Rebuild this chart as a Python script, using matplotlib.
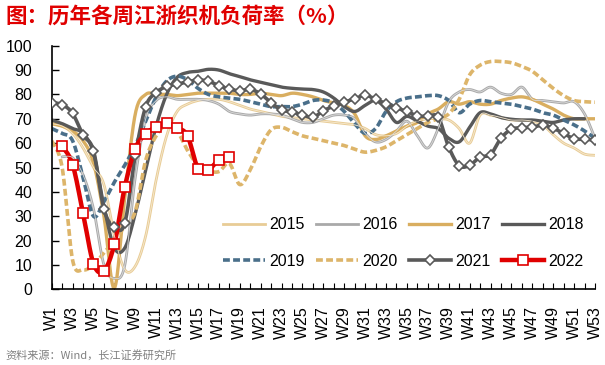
import matplotlib
matplotlib.use("Agg")
import matplotlib.pyplot as plt
from matplotlib.lines import Line2D
import numpy as np

weeks = [f"W{i}" for i in range(1, 54)]
N = None

y2015 = [68, 67, 64, 58, 50, 43, 22, 8, 9.5, 22, 45, 63, 73, 76, 77.5, 78, 78, 77, 75.5, 74,
         73, 72, 71, 70.5, 70, 69.5, 69, 68.5, 68, 67.5, 66, 63.5, 63, 64, 67, 69, 70, 70, 69.5, 66,
         60, 71.5, 71.5, 70.5, 69.5, 69.5, 69, 67.5, 63.5, 60, 58, 55.5, 55]
y2016 = [N, 54.4, 54, 47, 33, 10, 4.5, 10, 46, 70, 77.5, 79, 78, 78, 78, 77.5, 76, 73, 72, 71.5,
         72, 72, 71.5, 70, 68.5, 68.5, 70, 71.5, 71.5, 70, 64, 60.5, 61.5, 65, 69, 63, 58, 66, 77, 81,
         82, 81, 83, 80.5, 80, 83, 78, 77.5, 77, 76.5, 77, 72, 62]
y2017 = [68, 67, 65, 61, 52, 30, 0.5, 38, 72, 80, 80, 80, 79.5, 80, 80.5, 80.5, 80.5, 80.5, 80, 80,
         80.5, 80, 79.5, 80.5, 80, 79, 77.5, 76.5, 75.5, 72, 63, 61.5, 63, 65, 67, 68.5, 72, 74, 77, 76,
         77, 76, 76, 77.5, 78.5, 79, 78, 76, 74, 71.5, 70, 70, 70]
y2018 = [69.5, 68, 66, 64, 56, 34, 17, 17, 31, 49, 67, 80, 87, 89, 89.5, 90.3, 90, 88.5, 87.3, 86,
         85, 84, 83, 82.5, 82.2, 82, 81, 78.5, 75, 73, 75.5, 77.5, 74, 68.5, 71, 69, 67, 66, 62, 60.5,
         66.5, 72.5, 72, 70.5, 69.8, 69.5, 69.5, 69, 68.5, 69.5, 70, 70, N]
y2019 = [66, 64, 61, 46, 30, 36, 44, 51, 59, 69, 79, 85.5, 87.5, 86, 82.5, 80, 79, 78.5, 78, 77,
         76, 75, 75, 75, 76, 77.5, 77.7, 76.5, 73, 68, 64, 66, 73, 77, 78.5, 79, 79.5, 79.5, 77.5, 72.5,
         76, 77.5, 77, 76.5, 76, 75, 74, 72.5, 71.5, 69.5, 67.5, 65, 62]
y2020 = [61, 50, 12, 8, 10, 15, 20, 26, 32, 53, 63, 67.5, 65, 57, 51, 48.7, 48.3, 51.7, 43, 49,
         58.5, 65.5, 66.5, 64.7, 63, 62, 61, 60, 59, 57.5, 56.3, 57, 58.5, 61, 63.5, 66, 68.5, 70, 72, 78,
         88, 92, 93.5, 93.5, 93, 91.5, 89.5, 86, 82.5, 79.5, 77.5, 77, 76.8]
y2021 = [76.6, 75.8, 72.2, 63.3, 56.9, 33.0, 25.4, 27.3, 55, 75.0, 80.7, 83.3, 84.2, 85.2, 85.9, 85.4, 83.6, 82.2, 81.5, 82.1,
         80.2, 76.6, 73.6, 72.8, 71.6, 70.6, 73.3, 75.2, 76.8, 78.2, 79.7, 78.0, 76.2, 74.5, 73.0, 71.2, 71.0, 70.6, 58.4, 50.8,
         50.9, 54.3, 55.3, 62.0, 65.7, 66.3, 66.6, 67.3, 66.1, 64.0, 61.8, 61.6, 61.3]
y2022 = [N, 58.8, 51.2, 31.3, 10.5, 7.6, 18.6, 42.1, 57.7, 63.8, 66.6, 68.1, 66.3, 63.0, 49.5, 49.1, 53.1, 54.4] + [N] * 35

years = ["2015", "2016", "2017", "2018", "2019", "2020", "2021", "2022"]


def smooth(xs, ys, n=16):
    """Catmull-Rom style smoothing (like Excel smoothed lines) through the data points."""
    xs = np.asarray(xs, float)
    ys = np.asarray(ys, float)
    if len(xs) < 3:
        return xs, ys
    P = np.column_stack([xs, ys])
    out = []
    for i in range(len(P) - 1):
        p0 = P[i - 1] if i > 0 else P[i]
        p1 = P[i]
        p2 = P[i + 1]
        p3 = P[i + 2] if i + 2 < len(P) else P[i + 1]
        c1 = p1 + (p2 - p0) / 6.0
        c2 = p2 - (p3 - p1) / 6.0
        t = np.linspace(0, 1, n, endpoint=(i == len(P) - 2))[:, None]
        seg = ((1 - t) ** 3) * p1 + 3 * ((1 - t) ** 2) * t * c1 + 3 * (1 - t) * t ** 2 * c2 + t ** 3 * p2
        out.append(seg)
    arr = np.vstack(out)
    return arr[:, 0], arr[:, 1]


def runs(vals):
    xs, ys = [], []
    for i, v in enumerate(vals):
        if v is None:
            if xs:
                yield xs, ys
            xs, ys = [], []
        else:
            xs.append(i)
            ys.append(v)
    if xs:
        yield xs, ys


plt.rcParams['font.family'] = ['Liberation Sans', 'Noto Sans CJK SC', 'DejaVu Sans']

fig = plt.figure(figsize=(6.05, 3.65), dpi=100)
ax = fig.add_axes([51.7 / 605, (365 - 289.3) / 365, (595 - 51.7) / 605, (289.3 - 45.7) / 365])

styles = {
    "2015": dict(color="#E8CC96", lw=2.0, inner="#F6E9D0"),
    "2016": dict(color="#A9A9A9", lw=2.0, inner="#DADADA"),
    "2017": dict(color="#D9AE60", lw=2.4),
    "2018": dict(color="#595959", lw=2.4),
    "2019": dict(color="#4A6F8A", lw=2.6, ls=(0, (1.9, 0.9))),
    "2020": dict(color="#DDB56A", lw=2.6, ls=(0, (1.9, 0.9))),
    "2021": dict(color="#595959", lw=2.6),
    "2022": dict(color="#E00000", lw=3.2),
}
data = dict(zip(years, [y2015, y2016, y2017, y2018, y2019, y2020, y2021, y2022]))

for yr in years:
    st = styles[yr]
    for xs, ys in runs(data[yr]):
        sx, sy = smooth(xs, ys)
        ax.plot(sx, sy, color=st["color"], lw=st["lw"], ls=st.get("ls", "-"),
                solid_capstyle="round", dash_capstyle="butt", zorder=2)
        if "inner" in st:
            ax.plot(sx, sy, color=st["inner"], lw=0.6, zorder=2.1)
        if yr == "2021":
            ax.plot(xs, ys, ls="none", marker="D", ms=4.8, mfc="white", mec="#595959", mew=1.2, zorder=3)
        if yr == "2022":
            ax.plot(xs, ys, ls="none", marker="s", ms=7, mfc="white", mec="#E00000", mew=1.2, zorder=4)

ax.set_xlim(0, 52)
ax.set_ylim(0, 100)
ax.set_yticks(range(0, 101, 10))
ax.set_xticks(range(0, 53))
ax.set_xticklabels([w if i % 2 == 0 else "" for i, w in enumerate(weeks)], rotation=90, fontsize=11.5, va="top")
ax.tick_params(axis="y", direction="in", length=5, width=1, labelsize=11.5, pad=14)
ax.tick_params(axis="x", direction="in", length=4, width=0.8, pad=12)
for s in ["top", "right"]:
    ax.spines[s].set_visible(False)
for s in ["left", "bottom"]:
    ax.spines[s].set_linewidth(1.2)
    ax.spines[s].set_color("black")

handles = {}
for yr in years:
    st = styles[yr]
    kw = dict(color=st["color"], lw=st["lw"], ls=st.get("ls", "-"))
    if yr == "2021":
        kw.update(marker="D", ms=4.8, mfc="white", mec="#595959", mew=1.2)
    if yr == "2022":
        kw.update(marker="s", ms=7, mfc="white", mec="#E00000", mew=1.2)
    handles[yr] = Line2D([], [], **kw)
order = ["2015", "2019", "2016", "2020", "2017", "2021", "2018", "2022"]
leg = fig.legend([handles[y] for y in order], order, ncol=4, frameon=False, fontsize=11.5,
                 loc="upper left", bbox_to_anchor=(209 / 605, 1 - 203 / 365),
                 handlelength=2.6, handletextpad=0.3, columnspacing=0.7, labelspacing=1.35)

fig.text(5 / 605, 1 - 16 / 365, "图：历年各周江浙织机负荷率（%）", color="#E00000", fontsize=15.5,
         fontweight="bold", family=["Noto Sans CJK SC"], va="center", ha="left")
fig.text(5 / 605, 1 - 355 / 365, "资料来源：Wind，长江证券研究所", color="#808080", fontsize=8,
         family=["Noto Sans CJK SC"], va="center", ha="left")

fig.savefig("out.png", dpi=100)
